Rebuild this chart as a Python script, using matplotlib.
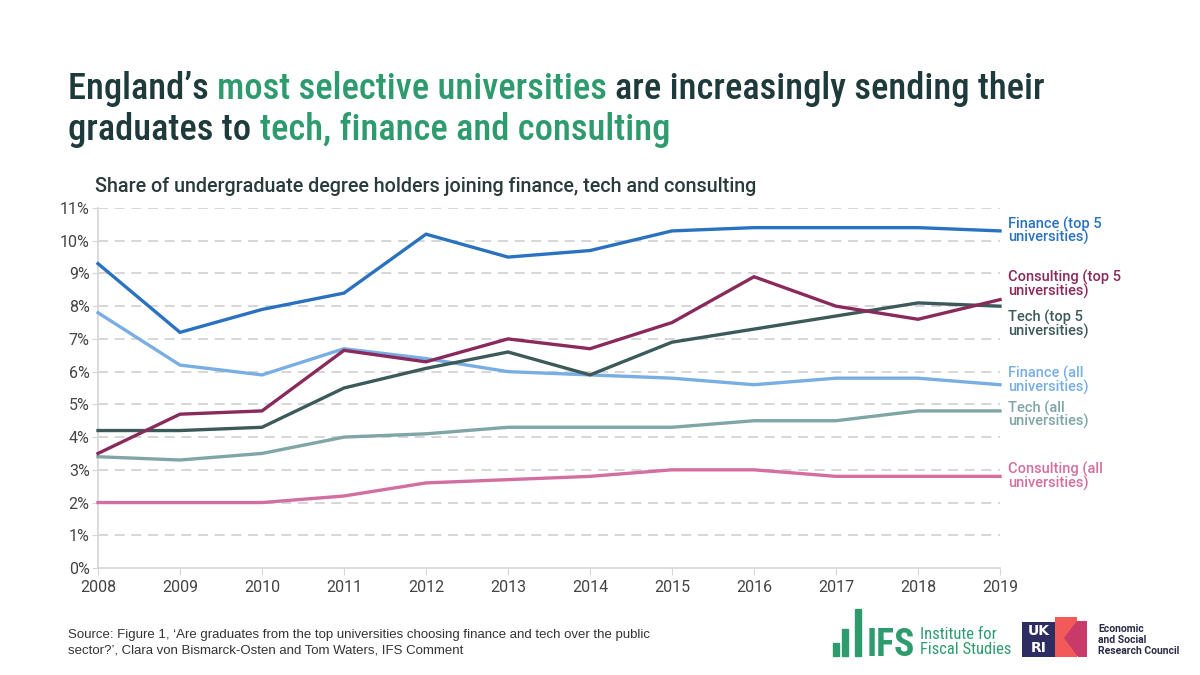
import matplotlib
matplotlib.use("Agg")
import matplotlib.pyplot as plt
from matplotlib import font_manager
from matplotlib.patches import Rectangle, Polygon

years = [2008, 2009, 2010, 2011, 2012, 2013, 2014, 2015, 2016, 2017, 2018, 2019]
finance_top5 = [9.3, 7.2, 7.9, 8.4, 10.2, 9.5, 9.7, 10.3, 10.4, 10.4, 10.4, 10.3]
consulting_top5 = [3.5, 4.7, 4.8, 6.65, 6.3, 7.0, 6.7, 7.5, 8.9, 8.0, 7.6, 8.2]
tech_top5 = [4.2, 4.2, 4.3, 5.5, 6.1, 6.6, 5.9, 6.9, 7.3, 7.7, 8.1, 8.0]
finance_all = [7.8, 6.2, 5.9, 6.7, 6.4, 6.0, 5.9, 5.8, 5.6, 5.8, 5.8, 5.6]
tech_all = [3.4, 3.3, 3.5, 4.0, 4.1, 4.3, 4.3, 4.3, 4.5, 4.5, 4.8, 4.8]
consulting_all = [2.0, 2.0, 2.0, 2.2, 2.6, 2.7, 2.8, 3.0, 3.0, 2.8, 2.8, 2.8]

series_names = ["Finance (top 5\nuniversities)", "Consulting (top 5\nuniversities)",
                "Tech (top 5\nuniversities)", "Finance (all\nuniversities)",
                "Tech (all\nuniversities)", "Consulting (all\nuniversities)"]
series_values = [finance_top5, consulting_top5, tech_top5, finance_all, tech_all, consulting_all]
series_colors = ["#2a72c0", "#8a2a5c", "#3d5a5a", "#78aee3", "#7fa5a7", "#d36fa0"]
label_offsets_pt = [0, 11, -13, 3, -3, 0]
draw_order = [5, 4, 3, 2, 1, 0]

y_ticks = list(range(0, 12))
y_tick_labels = [f"{v}%" for v in y_ticks]

def has_font(name):
    try:
        font_manager.findfont(font_manager.FontProperties(family=name), fallback_to_default=False)
        return True
    except Exception:
        return False

title_font = "Roboto Condensed" if has_font("Roboto Condensed") else "Roboto"
body_font = "Roboto"

DARK = "#1f3a3a"
GREEN = "#2e9b6e"

fig = plt.figure(figsize=(12, 6.75), dpi=100)
W, H = 1200, 675
ax = fig.add_axes([98 / W, 1 - 568 / H, (1000 - 98) / W, (568 - 208) / H])

for i in draw_order:
    ax.plot(years, series_values[i], color=series_colors[i], lw=2.4, clip_on=False,
            solid_joinstyle="miter", zorder=3)
    ax.annotate(series_names[i], xy=(years[-1], series_values[i][-1]),
                xytext=(6, label_offsets_pt[i]), textcoords="offset points",
                color=series_colors[i], fontsize=10.5, fontfamily=body_font, fontweight="medium",
                va="center", ha="left", linespacing=0.85, annotation_clip=False)

ax.set_xlim(2008, 2019)
ax.set_ylim(0, 11)
ax.set_xticks(years)
ax.set_xticklabels([str(y) for y in years])
ax.set_yticks(y_ticks)
ax.set_yticklabels(y_tick_labels)
for v in y_ticks[1:]:
    ax.axhline(v, color="#cfcfcf", lw=1.2, dashes=(6, 4), zorder=1)
for s in ["top", "right"]:
    ax.spines[s].set_visible(False)
for s in ["left", "bottom"]:
    ax.spines[s].set_color("#d6d6d6")
    ax.spines[s].set_linewidth(1.2)
ax.tick_params(axis="both", colors="#d6d6d6", labelcolor="#444444", labelsize=11.5, length=5)
ax.tick_params(axis="y", length=4, pad=2)
for lab in ax.get_xticklabels() + ax.get_yticklabels():
    lab.set_fontfamily(body_font)

# subtitle
fig.text(95 / W, 1 - 187 / H, "Share of undergraduate degree holders joining finance, tech and consulting",
         fontsize=14.2, fontfamily=body_font, fontweight="medium", color="#2b3b3b",
         va="center", ha="left")

# title (multi-colour)
renderer = fig.canvas.get_renderer()

def rich_line(x_px, y_px, parts, size):
    x = x_px
    for txt, col in parts:
        t = fig.text(x / W, 1 - y_px / H, txt, color=col, fontsize=size, fontfamily=title_font,
                     fontweight="medium", va="baseline", ha="left")
        x += t.get_window_extent(renderer).width

title_size = 26.3 if title_font == "Roboto Condensed" else 23
rich_line(68, 99, [("England’s ", DARK), ("most selective universities ", GREEN),
                    ("are increasingly sending their", DARK)], title_size)
rich_line(68, 140, [("graduates to ", DARK), ("tech, finance and consulting", GREEN)], title_size)

# source
fig.text(68 / W, 1 - 643 / H,
         "Source: Figure 1, ‘Are graduates from the top universities choosing finance and tech over the public\n"
         "sector?’, Clara von Bismarck-Osten and Tom Waters, IFS Comment",
         fontsize=9.5, fontfamily="Liberation Sans", color="#333333", va="center", ha="left",
         linespacing=1.35)

# IFS logo
logo_bars = [(833, 13), (842, 27), (855, 47)]
for bx, bh in logo_bars:
    fig.patches.append(Rectangle((bx / W, 1 - 656 / H), 6 / W, bh / H,
                                 transform=fig.transFigure, color=GREEN))
fig.text(867 / W, 1 - 656 / H, "IFS", fontsize=27, fontweight="bold", fontfamily=title_font,
         color=GREEN, va="baseline", ha="left")
fig.text(920 / W, 1 - 642 / H, "Institute for\nFiscal Studies", fontsize=12, fontfamily=title_font,
         color=GREEN, va="center", ha="left", linespacing=1.0)

# UKRI logo
def fig_poly(pts, color):
    fig.patches.append(Polygon([(px / W, 1 - py / H) for px, py in pts], closed=True,
                               transform=fig.transFigure, color=color, lw=0))

fig_poly([(1022, 622), (1055, 622), (1055, 657), (1022, 657)], "#2e2d62")
fig_poly([(1055, 617), (1077, 617), (1077, 657), (1055, 657)], "#f25a5a")
fig_poly([(1064, 638), (1077, 621), (1087, 621), (1087, 657), (1078, 657)], "#c73a6a")
fig.text(1038.5 / W, 1 - 631 / H, "UK", fontsize=10, fontweight="bold", color="white",
         fontfamily="DejaVu Sans", ha="center", va="center")
fig.text(1038.5 / W, 1 - 648 / H, "RI", fontsize=10, fontweight="bold", color="white",
         fontfamily="DejaVu Sans", ha="center", va="center")
fig.text(1098 / W, 1 - 640 / H, "Economic\nand Social\nResearch Council", fontsize=7.5,
         fontweight="bold", fontfamily="Roboto", color="#2a2a45", va="center", ha="left",
         linespacing=1.15)

fig.savefig("out.png", dpi=100, facecolor="white")
